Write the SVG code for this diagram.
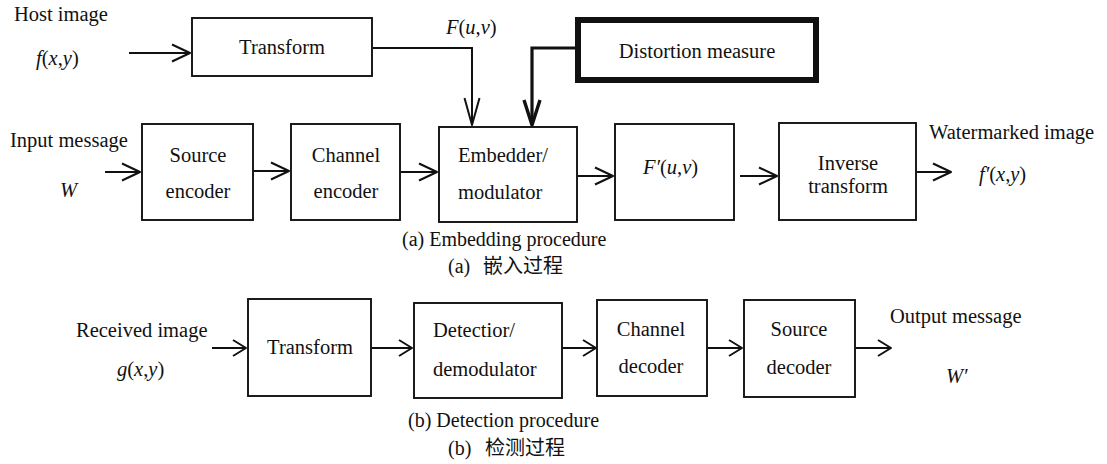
<svg xmlns="http://www.w3.org/2000/svg" width="1107" height="464" viewBox="0 0 1107 464">
<style>
text{font-family:"Liberation Serif","Times New Roman","Noto Sans CJK SC",serif;font-size:20.5px;fill:#111}
.c{text-anchor:middle}
.i{font-style:italic}
.cap{font-size:20px}
.box{fill:#fff;stroke:#111;stroke-width:1.9}
.thick{fill:#fff;stroke:#111;stroke-width:6}
.ln{fill:none;stroke:#111;stroke-width:2}
.lt{fill:none;stroke:#111;stroke-width:3.2}
.mh{fill:none;stroke:#111;stroke-width:2;stroke-linejoin:round}
.mt{fill:none;stroke:#111;stroke-width:3.4;stroke-linejoin:round}
</style>
<defs>
<marker id="ah" viewBox="-30 -12 32 24" markerWidth="32" markerHeight="24" refX="0" refY="0" orient="auto" markerUnits="userSpaceOnUse" overflow="visible"><path class="mh" d="M-18,-8.5 L0,0 L-18,8.5"/></marker>
<marker id="ahs" viewBox="-30 -12 32 24" markerWidth="32" markerHeight="24" refX="0" refY="0" orient="auto" markerUnits="userSpaceOnUse" overflow="visible"><path class="mh" d="M-13,-8 L0,0 L-13,8"/></marker>
<marker id="ahd" viewBox="-30 -12 32 24" markerWidth="32" markerHeight="24" refX="0" refY="0" orient="auto" markerUnits="userSpaceOnUse" overflow="visible"><path class="mh" d="M-27,-7.5 L0,0 L-27,7.5"/></marker>
<marker id="ahdt" viewBox="-30 -12 32 24" markerWidth="32" markerHeight="24" refX="0" refY="0" orient="auto" markerUnits="userSpaceOnUse" overflow="visible"><path class="mt" d="M-25,-8 L0,0 L-25,8"/></marker>
</defs>
<rect width="1107" height="464" fill="#fff"/>

<g id="connectors">
<path class="ln" d="M129,53 H190" marker-end="url(#ah)"/>
<path class="ln" d="M373,48 H472 V125" marker-end="url(#ahd)"/>
<path class="lt" d="M575,48 H532 V125" marker-end="url(#ahdt)"/>
<path class="ln" d="M105,172 H140" marker-end="url(#ah)"/>
<path class="ln" d="M254,171 H289" marker-end="url(#ah)"/>
<path class="ln" d="M401,172 H437" marker-end="url(#ah)"/>
<path class="ln" d="M578,176 H613" marker-end="url(#ah)"/>
<path class="ln" d="M740,176 H777" marker-end="url(#ah)"/>
<path class="ln" d="M917,172 H951" marker-end="url(#ah)"/>
<path class="ln" d="M212,348 H246" marker-end="url(#ahs)"/>
<path class="ln" d="M372,348 H412" marker-end="url(#ahs)"/>
<path class="ln" d="M563,348 H596" marker-end="url(#ahs)"/>
<path class="ln" d="M708,348 H742" marker-end="url(#ahs)"/>
<path class="ln" d="M856,348 H891" marker-end="url(#ahs)"/>
</g>

<g id="labels">
<text x="14" y="21">Host image</text>
<text x="36" y="65"><tspan class="i">f</tspan>(<tspan class="i">x</tspan>,<tspan class="i">y</tspan>)</text>
<text x="446" y="34"><tspan class="i">F</tspan>(<tspan class="i">u</tspan>,<tspan class="i">v</tspan>)</text>
<text x="10" y="147">Input message</text>
<text x="60" y="197" class="i">W</text>
<text x="929" y="139">Watermarked image</text>
<text x="979" y="181"><tspan class="i">f′</tspan>(<tspan class="i">x</tspan>,<tspan class="i">y</tspan>)</text>
<text x="76" y="337">Received image</text>
<text x="117" y="376"><tspan class="i">g</tspan>(<tspan class="i">x</tspan>,<tspan class="i">y</tspan>)</text>
<text x="890" y="323">Output message</text>
<text x="946" y="383" class="i">W′</text>
<text x="402" y="246" class="cap">(a) Embedding procedure</text>
<text x="448" y="273" class="cap">(a) <tspan x="483">嵌入过程</tspan></text>
<text x="408" y="427" class="cap">(b) Detection procedure</text>
<text x="448" y="455" class="cap">(b) <tspan x="485">检测过程</tspan></text>
</g>

<g id="transform1"><rect class="box" x="192" y="18" width="180" height="58"/><text class="c" x="282" y="54">Transform</text></g>
<g id="distortion"><rect class="thick" x="578" y="20" width="238" height="60"/><text class="c" x="697" y="58">Distortion measure</text></g>
<g id="source-encoder"><rect class="box" x="142" y="124" width="111" height="96"/><text class="c" x="198" y="162">Source</text><text class="c" x="198" y="198">encoder</text></g>
<g id="channel-encoder"><rect class="box" x="291" y="124" width="109" height="96"/><text class="c" x="346" y="162">Channel</text><text class="c" x="346" y="198">encoder</text></g>
<g id="embedder"><rect class="box" x="439" y="127" width="138" height="95"/><text x="458" y="162">Embedder/</text><text x="458" y="199">modulator</text></g>
<g id="fprime"><rect class="box" x="615" y="124" width="119" height="96"/><text x="643" y="174"><tspan class="i">F′</tspan>(<tspan class="i">u</tspan>,<tspan class="i">v</tspan>)</text></g>
<g id="inverse"><rect class="box" x="779" y="123" width="137" height="97"/><text class="c" x="848" y="170">Inverse</text><text class="c" x="848" y="193">transform</text></g>
<g id="transform2"><rect class="box" x="248" y="299" width="123" height="97"/><text class="c" x="310" y="354">Transform</text></g>
<g id="detector"><rect class="box" x="414" y="303" width="148" height="95"/><text x="433" y="337">Detectior/</text><text x="433" y="376">demodulator</text></g>
<g id="channel-decoder"><rect class="box" x="597" y="300" width="110" height="96"/><text class="c" x="651" y="336">Channel</text><text class="c" x="651" y="373">decoder</text></g>
<g id="source-decoder"><rect class="box" x="744" y="300" width="111" height="97"/><text class="c" x="799" y="336">Source</text><text class="c" x="799" y="374">decoder</text></g>
</svg>
